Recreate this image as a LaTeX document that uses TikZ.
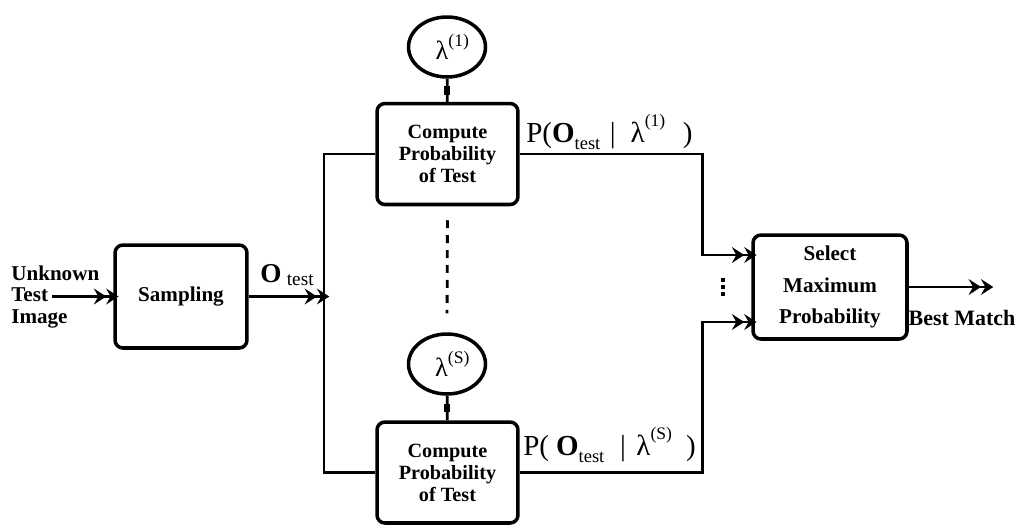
\documentclass[tikz,border=0pt]{standalone}
\usepackage{fontspec}
\setmainfont{Liberation Serif}
\usetikzlibrary{shapes.geometric,arrows.meta,calc}
\begin{document}
\begin{tikzpicture}[x=0.02cm,y=-0.02cm,
 box/.style={draw,line width=2pt,rounded corners=4.5pt,align=center,font=\bfseries\fontsize{11.5}{12.5}\selectfont,inner sep=0pt},
 model/.style={draw,ellipse,line width=2pt,minimum width=1.54cm,minimum height=1.2cm,inner sep=0pt},
 conn/.style={line width=1.6pt},
 arr/.style={conn,-{Stealth[length=7pt,width=9pt,inset=2.5pt]Stealth[length=7pt,width=9pt,inset=2.5pt,sep=-3pt]}},
 blob/.style={fill,inner sep=0pt,minimum width=3.5pt,minimum height=5pt},
 lbl/.style={font=\bfseries\fontsize{12}{12.3}\selectfont,inner sep=0pt},
 dashline/.style={line width=1.6pt,dash pattern=on 4.5pt off 4pt}
]
\useasboundingbox (0,0) rectangle (1021,525);

% blocks
\node[box,minimum width=2.64cm,minimum height=2.06cm,font=\bfseries\fontsize{12}{13}\selectfont] (samp) at (181,296.5) {Sampling};
\node[box,minimum width=2.82cm,minimum height=2.02cm] (cp1) at (447.5,154) {Compute\\Probability\\of Test};
\node[box,minimum width=2.82cm,minimum height=2.02cm] (cp2) at (447.5,472.5) {Compute\\Probability\\of Test};
\node[box,minimum width=3.08cm,minimum height=2.08cm,font=\bfseries\fontsize{12}{18}\selectfont] (sel) at (830,287) {Select\\Maximum\\Probability};
\node[model] (lam1) at (447,47) {\hspace{6pt}\fontsize{15}{15}\selectfont λ\raisebox{0.5em}{\fontsize{10}{10}\selectfont(1)}};
\node[model] (lam2) at (447,364) {\hspace{6pt}\fontsize{15}{15}\selectfont λ\raisebox{0.5em}{\fontsize{10}{10}\selectfont(S)}};

% labels
\node[lbl,align=left,anchor=west] (unk) at (11,297) {Unknown\\Test\\Image};
\coordinate (src) at (52,296.5);
\node[anchor=base west,inner sep=0pt] (ot) at (260,282) {\fontsize{15.5}{16}\selectfont\bfseries O\hspace{3pt}\raisebox{-0.3ex}{\mdseries\fontsize{11}{11}\selectfont test}};
\node[anchor=base west,inner sep=0pt] (p1) at (526,142) {\fontsize{16.5}{18}\selectfont P(\textbf{O}\raisebox{-0.25em}{\fontsize{10.5}{11}\selectfont test}\hspace{5.5pt}|\hspace{8.5pt}λ\raisebox{0.55em}{\fontsize{10}{10}\selectfont (1)}\hspace{10pt})};
\node[anchor=base west,inner sep=0pt] (p2) at (523,455) {\fontsize{16.5}{18}\selectfont P(\hspace{4pt}\textbf{O}\raisebox{-0.25em}{\fontsize{10.5}{11}\selectfont test}\hspace{9pt}|\hspace{6pt}λ\raisebox{0.55em}{\fontsize{10}{10}\selectfont (S)}\hspace{8pt})};
\node[lbl,font=\bfseries\fontsize{12.5}{13}\selectfont] (bm) at (962,318) {Best Match};

% connectors
\coordinate (jn) at (324,296.5);
\coordinate (best) at (988,287);
\draw[arr] (src) -- (samp.west);
\draw[arr] (samp.east) -- (jn);
\draw[conn] (cp1.west) -| (jn) |- (cp2.west);
\draw[conn] (lam1) -- node[blob] (k1) {} (cp1);
\draw[conn] (lam2) -- node[blob] (k2) {} (cp2);
\draw[dashline,shorten <=0.28cm,shorten >=0.38cm] (cp1.south) -- (lam2.north);
\draw[arr] (cp1.east) -| ($(sel.west)+(-49,-32)$) -- ($(sel.west)+(0,-32)$);
\draw[arr] (cp2.east) -| ($(sel.west)+(-49,35)$) -- ($(sel.west)+(0,35)$);
\draw[arr] (sel.east) -- (best);

% vertical ellipsis
\coordinate (vd) at (723,287);
\foreach \d in {-7,0,7} \fill ($(vd)+(-1.6,\d-1.6)$) rectangle ++(3.2,3.2);
\end{tikzpicture}
\end{document}
